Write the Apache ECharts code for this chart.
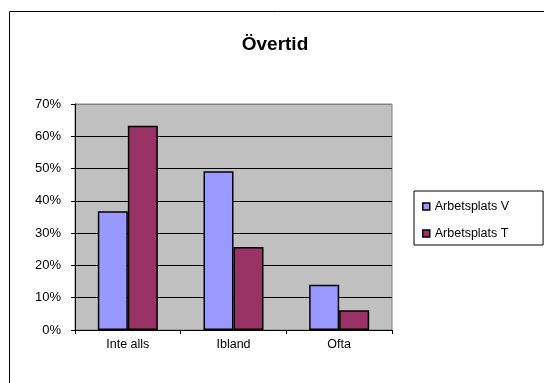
<!DOCTYPE html>
<html>
<head>
<meta charset="utf-8">
<script src="https://cdn.jsdelivr.net/npm/echarts@6/dist/echarts.min.js"></script>
<style>
  html, body { margin: 0; padding: 0; background: #fff; }
  #chart { width: 544px; height: 383px; }
</style>
</head>
<body>
<div id="chart"></div>
<script>
// Overtime survey: share of answers per workplace
const categories = ['Inte alls', 'Ibland', 'Ofta'];
const seriesNames = ['Arbetsplats V', 'Arbetsplats T'];
const valuesV = [36.8, 49.2, 14.0];
const valuesT = [63.3, 25.7, 6.1];
const yMin = 0, yMax = 70, yStep = 10;

const font = 'Liberation Sans, Arial, sans-serif';
const chart = echarts.init(document.getElementById('chart'), null, { renderer: 'canvas' });

// split lines: black inside the plot, grey at the top edge
const splitColors = [];
for (let v = yMin; v <= yMax; v += yStep) splitColors.push(v === yMax ? '#808080' : '#000000');

chart.setOption({
  animation: false,
  backgroundColor: '#ffffff',
  title: {
    text: 'Övertid',
    left: 270, top: 30, textAlign: 'center',
    textStyle: { fontFamily: font, fontSize: 19, fontWeight: 'bold', color: '#000' }
  },
  graphic: [{
    type: 'rect', silent: true,
    shape: { x: 9.5, y: 11.5, width: 560, height: 400 },
    style: { fill: 'none', stroke: '#000', lineWidth: 1 }
  }],
  legend: {
    orient: 'vertical',
    left: 414, top: 191,
    padding: [9, 34, 5, 8],
    itemGap: 14,
    itemWidth: 7, itemHeight: 7,
    itemTextGap: 7,
    icon: 'rect',
    borderColor: '#000', borderWidth: 1,
    backgroundColor: '#fff',
    textStyle: { fontFamily: font, fontSize: 12.5, color: '#000' },
    itemStyle: { borderColor: '#000', borderWidth: 1.5 },
    data: seriesNames
  },
  grid: {
    left: 75, top: 104, width: 317, height: 226,
    show: true, backgroundColor: '#C0C0C0', borderColor: '#808080', borderWidth: 1
  },
  xAxis: {
    type: 'category',
    data: categories,
    axisLine: { lineStyle: { color: '#000', width: 1 } },
    axisTick: { show: true, length: 4, inside: false, lineStyle: { color: '#000' } },
    axisLabel: { fontFamily: font, fontSize: 12.5, color: '#000', margin: 8 },
    splitLine: { show: false }
  },
  yAxis: {
    type: 'value',
    min: yMin, max: yMax, interval: yStep,
    axisLine: { show: true, lineStyle: { color: '#000', width: 1 } },
    axisTick: { show: true, length: 4, inside: false, lineStyle: { color: '#000' } },
    axisLabel: { fontFamily: font, fontSize: 13, color: '#000', margin: 14, formatter: '{value}%' },
    splitLine: { show: true, lineStyle: { color: splitColors, width: 1 } }
  },
  series: [
    {
      name: seriesNames[0], type: 'bar', data: valuesV,
      barWidth: 30, barGap: '0%',
      itemStyle: { color: '#9999FF', borderColor: '#000', borderWidth: 1.5 }
    },
    {
      name: seriesNames[1], type: 'bar', data: valuesT,
      barWidth: 30, barGap: '0%',
      itemStyle: { color: '#993366', borderColor: '#000', borderWidth: 1.5 }
    }
  ]
});
</script>
</body>
</html>
